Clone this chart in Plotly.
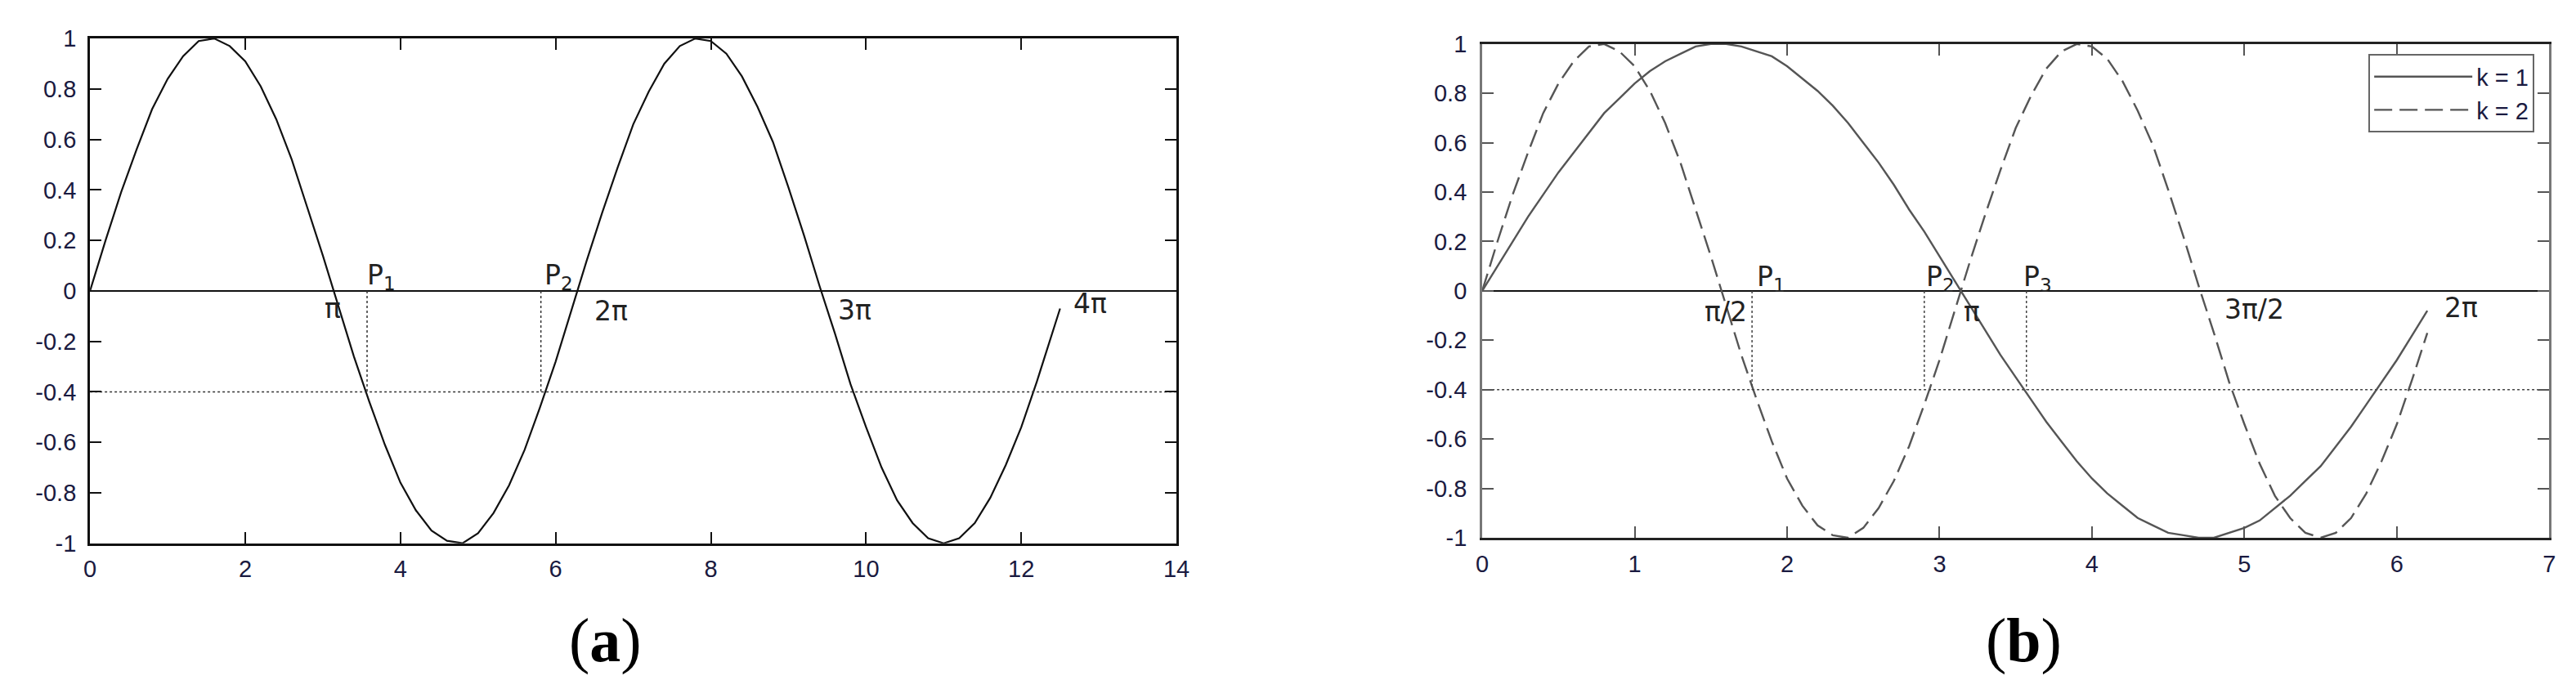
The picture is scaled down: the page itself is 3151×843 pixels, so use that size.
import plotly.graph_objects as go

# ---- data ----
# panel (a): one curve
A_X = [0.0, 0.2, 0.4, 0.6, 0.8, 1.0, 1.2, 1.4, 1.6, 1.8, 2.0, 2.2, 2.4, 2.6, 2.8, 3.0,
       3.2, 3.4, 3.6, 3.8, 4.0, 4.2, 4.4, 4.6, 4.8, 5.0, 5.2, 5.4, 5.6, 5.8, 6.0, 6.2,
       6.4, 6.6, 6.8, 7.0, 7.2, 7.4, 7.6, 7.8, 8.0, 8.2, 8.4, 8.6, 8.8, 9.0, 9.2, 9.4,
       9.6, 9.8, 10.0, 10.2, 10.4, 10.6, 10.8, 11.0, 11.2, 11.4, 11.6, 11.8, 12.0, 12.2,
       12.4, 12.5]
A_Y = [0.00, 0.20, 0.39, 0.56, 0.72, 0.84, 0.93, 0.99, 1.00, 0.97, 0.91, 0.81, 0.68, 0.52, 0.33, 0.14,
       -0.06, -0.26, -0.44, -0.61, -0.76, -0.87, -0.95, -0.99, -1.00, -0.96, -0.88, -0.77, -0.63, -0.46, -0.28, -0.08,
       0.12, 0.31, 0.49, 0.66, 0.79, 0.90, 0.97, 1.00, 0.99, 0.94, 0.85, 0.73, 0.59, 0.41, 0.22, 0.02,
       -0.17, -0.37, -0.54, -0.70, -0.83, -0.92, -0.98, -1.00, -0.98, -0.92, -0.82, -0.69, -0.54, -0.36,
       -0.17, -0.07]

# panel (b): k = 1 and k = 2
B_X = [0.0, 0.1, 0.2, 0.3, 0.4, 0.5, 0.6, 0.7, 0.8, 0.9, 1.0, 1.1, 1.2, 1.3, 1.4, 1.5,
       1.6, 1.7, 1.8, 1.9, 2.0, 2.1, 2.2, 2.3, 2.4, 2.5, 2.6, 2.7, 2.8, 2.9, 3.0, 3.1,
       3.2, 3.3, 3.4, 3.5, 3.6, 3.7, 3.8, 3.9, 4.0, 4.1, 4.2, 4.3, 4.4, 4.5, 4.6, 4.7,
       4.8, 4.9, 5.0, 5.1, 5.2, 5.3, 5.4, 5.5, 5.6, 5.7, 5.8, 5.9, 6.0, 6.1, 6.2]
B_K1 = [0.00, 0.10, 0.20, 0.30, 0.39, 0.48, 0.56, 0.64, 0.72, 0.78, 0.84, 0.89, 0.93, 0.96, 0.99, 1.00,
        1.00, 0.99, 0.97, 0.95, 0.91, 0.86, 0.81, 0.75, 0.68, 0.60, 0.52, 0.43, 0.33, 0.24, 0.14, 0.04,
        -0.06, -0.16, -0.26, -0.35, -0.44, -0.53, -0.61, -0.69, -0.76, -0.82, -0.87, -0.92, -0.95, -0.98, -0.99, -1.00,
        -1.00, -0.98, -0.96, -0.93, -0.88, -0.83, -0.77, -0.71, -0.63, -0.55, -0.46, -0.37, -0.28, -0.18, -0.08]
B_K2 = [0.00, 0.20, 0.39, 0.56, 0.72, 0.84, 0.93, 0.99, 1.00, 0.97, 0.91, 0.81, 0.68, 0.52, 0.33, 0.14,
        -0.06, -0.26, -0.44, -0.61, -0.76, -0.87, -0.95, -0.99, -1.00, -0.96, -0.88, -0.77, -0.63, -0.46, -0.28, -0.08,
        0.12, 0.31, 0.49, 0.66, 0.79, 0.90, 0.97, 1.00, 0.99, 0.94, 0.85, 0.73, 0.59, 0.41, 0.22, 0.02,
        -0.17, -0.37, -0.54, -0.70, -0.83, -0.92, -0.98, -1.00, -0.98, -0.92, -0.82, -0.69, -0.54, -0.36, -0.17]

LEVEL = -0.4
A_P = [3.57, 5.81]
B_P = [1.77, 2.90, 3.57]

# text labels (x, y, text)
A_LABELS_X = [3.0, 3.55, 5.84, 6.48, 9.62, 12.65]
A_LABELS_Y = [-0.07, 0.055, 0.055, -0.08, -0.075, -0.05]
A_LABELS = ["π", "P<sub>1</sub>", "P<sub>2</sub>", "2π", "3π", "4π"]
B_LABELS_X = [1.45, 1.79, 2.90, 3.15, 3.54, 4.86, 6.30]
B_LABELS_Y = [-0.085, 0.05, 0.05, -0.085, 0.05, -0.074, -0.069]
B_LABELS = ["π/2", "P<sub>1</sub>", "P<sub>2</sub>", "π", "P<sub>3</sub>", "3π/2", "2π"]

A_XTICKS = [0, 2, 4, 6, 8, 10, 12, 14]
B_XTICKS = [0, 1, 2, 3, 4, 5, 6, 7]
Y_TICKS = [-1, -0.8, -0.6, -0.4, -0.2, 0, 0.2, 0.4, 0.6, 0.8, 1]
Y_TICK_TEXT = ["-1", "-0.8", "-0.6", "-0.4", "-0.2", "0", "0.2", "0.4", "0.6", "0.8", "1"]

TICK_FONT = dict(family="Liberation Sans, Arial, sans-serif", size=29, color="#1a1a40")
LABEL_FONT = dict(family="DejaVu Sans, Verdana, sans-serif", size=33, color="#222222")
CURVE_A = "#111111"
CURVE_B = "#555555"

fig = go.Figure()

# ---- panel (a) ----
fig.add_trace(go.Scatter(x=A_X, y=A_Y, mode="lines", xaxis="x", yaxis="y",
                         line=dict(color=CURVE_A, width=2.2), showlegend=False))
fig.add_trace(go.Scatter(x=[0, 14], y=[LEVEL, LEVEL], mode="lines", xaxis="x", yaxis="y",
                         line=dict(color="#333333", width=1.5, dash="dot"), showlegend=False))
for p in A_P:
    fig.add_trace(go.Scatter(x=[p, p], y=[0, LEVEL], mode="lines", xaxis="x", yaxis="y",
                             line=dict(color="#333333", width=1.5, dash="dot"), showlegend=False))

# ---- panel (b) ----
fig.add_trace(go.Scatter(x=B_X, y=B_K1, mode="lines", xaxis="x2", yaxis="y2", name="k = 1",
                         line=dict(color=CURVE_B, width=2.4)))
fig.add_trace(go.Scatter(x=B_X, y=B_K2, mode="lines", xaxis="x2", yaxis="y2", name="k = 2",
                         line=dict(color=CURVE_B, width=2.4, dash="22px,9px")))
fig.add_trace(go.Scatter(x=[0, 7], y=[LEVEL, LEVEL], mode="lines", xaxis="x2", yaxis="y2",
                         line=dict(color="#444444", width=1.5, dash="dot"), showlegend=False))
for p in B_P:
    fig.add_trace(go.Scatter(x=[p, p], y=[0, LEVEL], mode="lines", xaxis="x2", yaxis="y2",
                             line=dict(color="#444444", width=1.5, dash="dot"), showlegend=False))

# ---- text labels ----
for x, y, t in zip(A_LABELS_X, A_LABELS_Y, A_LABELS):
    fig.add_annotation(x=x, y=y, xref="x", yref="y", text=t, showarrow=False,
                       xanchor="left", yanchor="middle", font=LABEL_FONT)
for x, y, t in zip(B_LABELS_X, B_LABELS_Y, B_LABELS):
    fig.add_annotation(x=x, y=y, xref="x2", yref="y2", text=t, showarrow=False,
                       xanchor="left", yanchor="middle", font=LABEL_FONT)

for x, t in [(0.2317, "(<b>a</b>)"), (0.7864, "(<b>b</b>)")]:
    fig.add_annotation(x=x, y=0.063, xref="paper", yref="paper", text=t, showarrow=False,
                       xanchor="center", yanchor="middle",
                       font=dict(family="Liberation Serif, DejaVu Serif, serif", size=76, color="#000000"))

axis_common = dict(showgrid=False, ticks="inside", ticklen=14, tickwidth=2,
                   mirror="ticks", showline=True, linewidth=3, tickfont=TICK_FONT)

fig.update_layout(
    width=3151,
    height=843,
    margin=dict(l=0, r=0, t=0, b=0),
    plot_bgcolor="white",
    paper_bgcolor="white",
    xaxis=dict(domain=[0.0301, 0.4551], range=[0, 14], tickvals=A_XTICKS, anchor="y",
               zeroline=False, linecolor="#111111", tickcolor="#111111",
               ticklabelstandoff=4, **axis_common),
    yaxis=dict(domain=[0.2100, 0.9715], range=[-1, 1], tickvals=Y_TICKS, ticktext=Y_TICK_TEXT,
               anchor="x", zeroline=True, zerolinecolor="#111111", zerolinewidth=2,
               linecolor="#111111", tickcolor="#111111", ticklabelstandoff=8, **axis_common),
    xaxis2=dict(domain=[0.5747, 0.9921], range=[0, 7], tickvals=B_XTICKS, anchor="y2",
                zeroline=False, linecolor="#222222", tickcolor="#555555",
                ticklabelstandoff=4, **axis_common),
    yaxis2=dict(domain=[0.2183, 0.9632], range=[-1, 1], tickvals=Y_TICKS, ticktext=Y_TICK_TEXT,
                anchor="x2", zeroline=True, zerolinecolor="#111111", zerolinewidth=2,
                linecolor="#777777", tickcolor="#555555", ticklabelstandoff=10, **axis_common),
    legend=dict(x=0.9863, xanchor="right", y=0.9478, yanchor="top",
                bgcolor="white", bordercolor="#666666", borderwidth=2,
                font=dict(family="Liberation Sans, Arial, sans-serif", size=29, color="#1a1a40"),
                itemwidth=120, tracegroupgap=0),
)

fig.write_html("out.html")
